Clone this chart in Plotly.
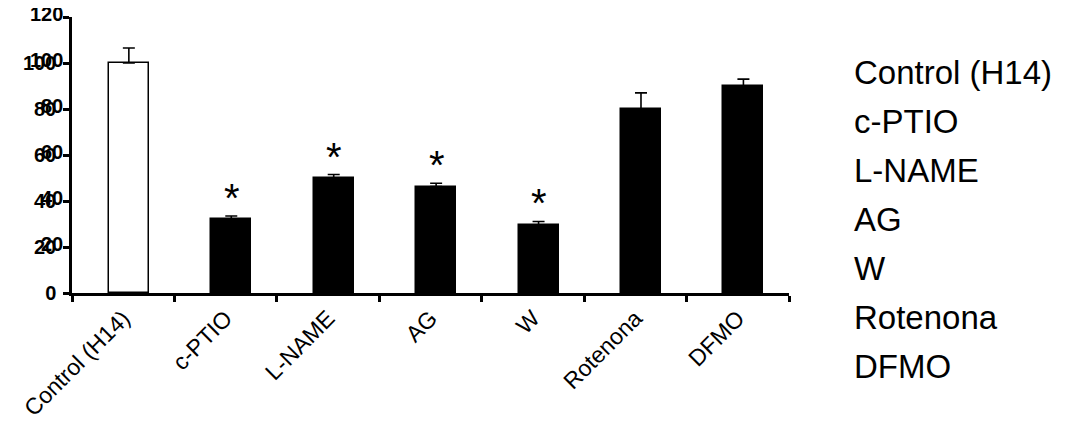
import plotly.graph_objects as go

# data
treatments = ["Control (H14)", "c-PTIO", "L-NAME", "AG", "W", "Rotenona", "DFMO"]
values = [100, 32, 50, 46.3, 29.5, 80, 90]
errors = [6.5, 1.5, 1.5, 1.4, 1.6, 7, 3]
significant = [False, True, True, True, True, False, False]
y_ticks = [0, 20, 40, 60, 80, 100, 120]

FONT = "Arial, Liberation Sans, sans-serif"
Y_MAX = 120

fills = ["white"] + ["black"] * (len(treatments) - 1)

fig = go.Figure()
fig.add_trace(go.Bar(
    x=treatments,
    y=values,
    width=0.39,
    offset=-0.14,
    marker=dict(color=fills, line=dict(color="black", width=1.5)),
    error_y=dict(type="data", array=errors, arrayminus=[0] * len(errors),
                 symmetric=False, color="black", thickness=1.6, width=6),
    showlegend=False,
))

# asterisks over significant bars
for name, v, e, s in zip(treatments, values, errors, significant):
    if s:
        fig.add_annotation(x=name, y=v + e, text="*", showarrow=False,
                           yanchor="bottom", xshift=6, yshift=-6,
                           font=dict(family=FONT, size=40, color="black"))

# the original has every y label (except 0) printed twice, slightly offset
for t in y_ticks[1:]:
    fig.add_annotation(xref="paper", yref="paper", x=0, y=t / Y_MAX, text=str(t),
                       showarrow=False, xanchor="right", yanchor="middle",
                       xshift=-7, yshift=3,
                       font=dict(family=FONT, size=20, color="black", weight="bold"))

# legend drawn as plain text (no symbols in the original)
for i, name in enumerate(treatments):
    fig.add_annotation(xref="paper", yref="paper", x=1.088, y=0.80 - i * 0.178,
                       text=name, showarrow=False, xanchor="left", yanchor="middle",
                       font=dict(family=FONT, size=33, color="black"))

# page body has an 8px margin, so the margins are pulled in by 8px
fig.update_layout(
    width=1087, height=423,
    margin=dict(l=64, r=306, t=9, b=138, autoexpand=False),
    paper_bgcolor="white", plot_bgcolor="white",
    font=dict(family=FONT, color="black"),
    bargap=0,
    xaxis=dict(
        range=[-0.5, 6.5], showline=True, linecolor="black", linewidth=2.5,
        ticks="outside", tickson="boundaries", ticklen=6, tickwidth=2.5, tickcolor="black",
        tickangle=-45, tickfont=dict(family=FONT, size=23, color="black"),
        showgrid=False, zeroline=False, automargin=False,
    ),
    yaxis=dict(
        range=[0, Y_MAX], tickvals=y_ticks, showline=True, linecolor="black", linewidth=2.5,
        ticks="outside", ticklen=6, tickwidth=2.5, tickcolor="black",
        tickfont=dict(family=FONT, size=20, color="black", weight="bold"),
        ticklabelstandoff=3,
        showgrid=False, zeroline=False, automargin=False,
    ),
)

fig.write_html("out.html")
